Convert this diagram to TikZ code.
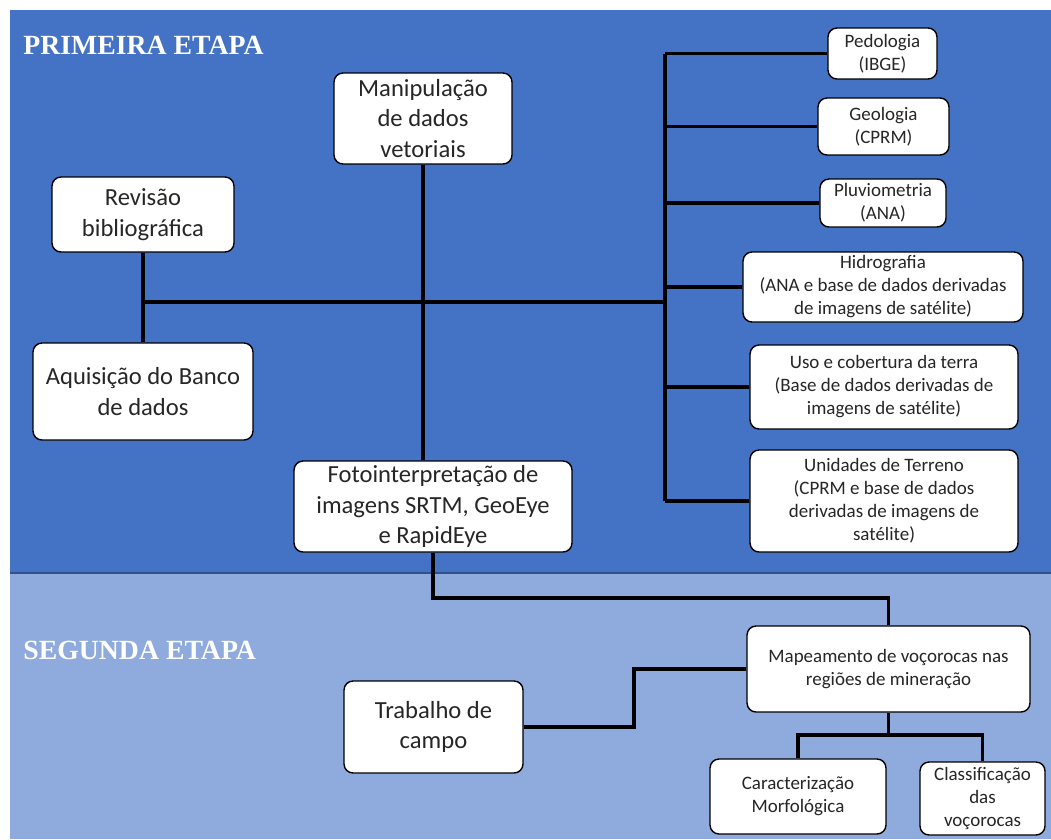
\documentclass[tikz,border=0pt]{standalone}
\usepackage{fontspec}
\setmainfont{Carlito}
\newfontfamily\titulo{Liberation Serif}
\usetikzlibrary{backgrounds}

\definecolor{azulescuro}{HTML}{4472C4}
\definecolor{azulclaro}{HTML}{8FAADC}
\definecolor{borda}{HTML}{2F528F}

\begin{document}
\begin{tikzpicture}[line cap=round,line join=round,x=0.02cm,y=-0.02cm,
  caixa/.style={draw=black,fill=white,rounded corners=0.18cm,line width=0.8pt,align=center,inner sep=0pt,text=black!85},
  grande/.style={caixa,font=\fontsize{14}{17.4}\selectfont},
  pequena/.style={caixa,font=\fontsize{10.8}{13.1}\selectfont},
  etapa/.style={anchor=west,inner sep=0pt,text=white,font=\titulo\bfseries\fontsize{15.8}{19}\selectfont},
  liga/.style={line width=1.8pt}]

\useasboundingbox (0,0) rectangle (1051,839);

% titulos
\node[etapa] (etapa1) at (23,45) {PRIMEIRA ETAPA};
\node[etapa] (etapa2) at (23,650) {SEGUNDA ETAPA};

% primeira etapa
\node[grande,minimum width=3.56cm,minimum height=1.82cm] (manip) at (423,118.5) {Manipulação\\de dados\\vetoriais};
\node[grande,minimum width=3.64cm,minimum height=1.5cm] (revisao) at (143,214.5) {Revisão\\bibliográfica};
\node[grande,minimum width=4.4cm,minimum height=1.94cm] (aquis) at (143,391.5) {Aquisição do Banco\\de dados};
\node[grande,minimum width=5.56cm,minimum height=1.82cm] (foto) at (433,506.5) {Fotointerpretação de\\imagens SRTM, GeoEye\\e RapidEye};

\node[pequena,minimum width=2.18cm,minimum height=1.02cm] (pedo) at (882.5,53.5) {Pedologia\\(IBGE)};
\node[pequena,minimum width=2.62cm,minimum height=1.14cm] (geo) at (883.5,126.5) {Geologia\\(CPRM)};
\node[pequena,minimum width=2.52cm,minimum height=0.96cm] (pluv) at (883,203) {Pluviometria\\(ANA)};
\node[pequena,minimum width=5.6cm,minimum height=1.4cm] (hidro) at (883,287) {Hidrografia\\(ANA e base de dados derivadas\\de imagens de satélite)};
\node[pequena,minimum width=5.36cm,minimum height=1.68cm] (uso) at (884,387) {Uso e cobertura da terra\\(Base de dados derivadas de\\imagens de satélite)};
\node[pequena,minimum width=5.36cm,minimum height=2.04cm] (unid) at (884,501) {Unidades de Terreno\\(CPRM e base de dados\\derivadas de imagens de\\satélite)};

% segunda etapa
\node[pequena,minimum width=5.66cm,minimum height=1.72cm] (mapa) at (888.5,669) {Mapeamento de voçorocas nas\\regiões de mineração};
\node[grande,minimum width=3.58cm,minimum height=1.84cm] (trab) at (433.5,727) {Trabalho de\\campo};
\node[pequena,minimum width=3.52cm,minimum height=1.5cm] (carac) at (798,796.5) {Caracterização\\Morfológica};
\node[pequena,minimum width=2.5cm,minimum height=1.46cm] (classif) at (982.5,798.5) {Classificação\\das\\voçorocas};

\coordinate (esq) at (143,302);
\coordinate (dir) at (665,302);
\coordinate (desce) at (433,598);
\coordinate (degrau) at (634,669);
\coordinate (ramo) at (888.5,735);

\begin{scope}[on background layer]
\fill[white] (0,0) rectangle (1051,839);
\fill[azulescuro] (10,10) rectangle (1051,573);
\fill[azulclaro] (10,573) rectangle (1051,839);
\draw[borda,line width=0.6pt] (10,573) -- (1051,573);

\draw[liga] (revisao) -- (aquis);
\draw[liga] (esq) -- (dir);
\draw[liga] (manip.south) -- (manip.south |- foto.north);
\draw[liga] (dir |- pedo.west) -- (dir |- unid.west);
\foreach \ramo in {pedo,geo,pluv,hidro,uso,unid}
  \draw[liga] (dir |- \ramo.west) -- (\ramo.west);

\draw[liga] (foto.south) -- (desce) -| (mapa.north);
\draw[liga] (trab.east) -| (degrau) -- (mapa.west);
\draw[liga] (mapa.south) -- (ramo);
\draw[liga] (carac.north) |- (ramo) -| (classif.north);
\end{scope}
\end{tikzpicture}
\end{document}
